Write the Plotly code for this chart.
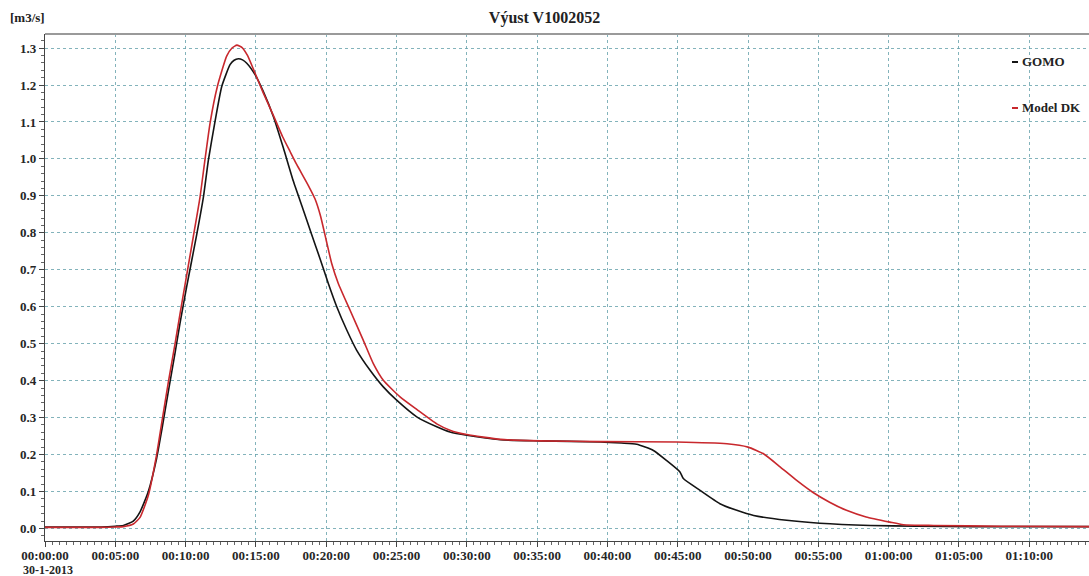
import plotly.graph_objects as go

# Time axis in minutes since 00:00:00 on 30-1-2013
gomo_t = [0, 4.0, 5.0, 5.57, 6.28, 6.76, 7.35, 7.94, 8.3, 8.77, 9.25, 9.6, 10.08, 10.79,
          11.26, 11.62, 12.09, 12.57, 13.16, 13.45, 13.75, 14.05, 14.35, 14.94, 15.53,
          16.24, 16.95, 17.66, 18.37, 18.97, 19.56, 20.15, 20.75, 21.46, 22.17, 23.12,
          24.06, 25.01, 26.44, 27.86, 28.8, 30.0, 32.4, 35.2, 39.5, 41.0, 42.08, 43.27,
          44.2, 45.16, 45.4, 46.59, 48.0, 49.2, 50.4, 52.75, 55.1, 58.7, 62.0, 66.0,
          70.0, 74.3]
gomo_q = [0.004, 0.004, 0.006, 0.008, 0.02, 0.045, 0.10, 0.19, 0.265, 0.37, 0.475, 0.555,
          0.655, 0.795, 0.895, 0.997, 1.101, 1.196, 1.255, 1.267, 1.271, 1.268, 1.259,
          1.228, 1.182, 1.115, 1.030, 0.940, 0.862, 0.795, 0.730, 0.663, 0.600, 0.537,
          0.482, 0.428, 0.383, 0.347, 0.302, 0.275, 0.261, 0.252, 0.240, 0.237, 0.234,
          0.231, 0.228, 0.211, 0.184, 0.153, 0.135, 0.103, 0.067, 0.049, 0.035, 0.022,
          0.014, 0.008, 0.006, 0.005, 0.005, 0.005]

model_t = [0, 4.0, 5.0, 5.57, 6.28, 6.76, 7.35, 7.94, 8.3, 8.77, 9.25, 9.6, 9.96, 10.55,
           11.02, 11.35, 11.74, 12.26, 12.92, 13.3, 13.65, 14.0, 14.4, 14.82, 15.53,
           16.24, 16.9, 17.43, 17.9, 18.73, 19.2, 19.6, 20.0, 20.39, 20.86, 21.69, 22.64,
           23.35, 24.06, 25.25, 26.44, 27.86, 28.8, 30.0, 32.4, 35.2, 39.5, 44.9, 48.5,
           50.0, 51.1, 52.3, 53.46, 54.6, 55.8, 57.0, 58.4, 60.1, 61.05, 63.2, 68.0, 74.3]
model_q = [0.003, 0.003, 0.004, 0.005, 0.012, 0.03, 0.09, 0.20, 0.285, 0.395, 0.50, 0.58,
           0.660, 0.790, 0.895, 0.990, 1.097, 1.196, 1.278, 1.300, 1.308, 1.302, 1.280,
           1.243, 1.178, 1.118, 1.060, 1.020, 0.985, 0.928, 0.892, 0.845, 0.780, 0.717,
           0.663, 0.591, 0.509, 0.446, 0.401, 0.356, 0.322, 0.283, 0.266, 0.254, 0.241,
           0.237, 0.235, 0.234, 0.229, 0.220, 0.202, 0.166, 0.130, 0.098, 0.071, 0.049,
           0.031, 0.017, 0.010, 0.008, 0.006, 0.005]

x_tick_vals = [0, 5, 10, 15, 20, 25, 30, 35, 40, 45, 50, 55, 60, 65, 70]
x_tick_text = ["00:00:00", "00:05:00", "00:10:00", "00:15:00", "00:20:00",
               "00:25:00", "00:30:00", "00:35:00", "00:40:00", "00:45:00", "00:50:00",
               "00:55:00", "01:00:00", "01:05:00", "01:10:00"]
start_date = "30-1-2013"
y_tick_vals = [0.0, 0.1, 0.2, 0.3, 0.4, 0.5, 0.6, 0.7, 0.8, 0.9, 1.0, 1.1, 1.2, 1.3]

series_names = ["GOMO", "Model DK"]
series_colors = ["#141414", "#c8282d"]

FONT = "Liberation Serif"
GRID = "rgba(100,160,170,0.8)"
TEXT = "#262626"

# plot area in pixels (used to place the free-standing labels)
L, T, W, H = 45, 34, 1044, 507


def px_x(x):
    return (x - L) / W


def px_y(y):
    return (T + H - y) / H


fig = go.Figure()
for t, q, name, color in [(gomo_t, gomo_q, series_names[0], series_colors[0]),
                          (model_t, model_q, series_names[1], series_colors[1])]:
    fig.add_trace(go.Scatter(x=t, y=q, name=name, mode="lines",
                             line=dict(color=color, width=1.6, shape="spline", smoothing=0.5)))

fig.update_layout(
    width=1089, height=576,
    margin=dict(l=L, r=1089 - L - W, t=T, b=576 - T - H),
    paper_bgcolor="white", plot_bgcolor="white",
    showlegend=False,
    font=dict(family=FONT, color=TEXT, size=13),
    title=dict(text="<b>Výust V1002052</b>", x=0.5, xanchor="center",
               y=1 - 17 / 576, yanchor="middle", yref="container",
               font=dict(family=FONT, size=16, color="#222")),
)

fig.update_xaxes(
    range=[0, 74.25], tickmode="array", tickvals=x_tick_vals, ticktext=x_tick_text,
    tickfont=dict(family=FONT, size=13, color=TEXT, weight="bold"),
    ticklabelstandoff=-3,
    showgrid=True, gridcolor=GRID, griddash="dot", gridwidth=1,
    showline=True, linecolor="#444", linewidth=1.2,
    ticks="outside", ticklen=5, tickcolor="#444",
    minor=dict(dtick=0.5, ticks="outside", ticklen=3, tickcolor="#666", showgrid=False),
    zeroline=False, automargin=False,
)
fig.update_yaxes(
    range=[-0.034, 1.338], tickmode="array", tickvals=y_tick_vals,
    tickformat=".1f",
    tickfont=dict(family=FONT, size=13, color=TEXT, weight="bold"),
    showgrid=True, gridcolor=GRID, griddash="dot", gridwidth=1,
    showline=True, linecolor="#444", linewidth=1.2,
    ticks="outside", ticklen=5, tickcolor="#444",
    minor=dict(dtick=0.02, tick0=0, ticks="outside", ticklen=3, tickcolor="#666", showgrid=False),
    zeroline=False, automargin=False,
)

# top frame line
fig.add_shape(type="line", xref="paper", yref="paper", x0=0, x1=1, y0=1, y1=1,
              line=dict(color="#9a9a9a", width=2))

# white panel behind the legend entries
fig.add_shape(type="rect", xref="paper", yref="paper", layer="between",
              x0=px_x(1008), x1=1.0, y0=px_y(117), y1=px_y(44),
              fillcolor="white", line=dict(width=0))

# legend: short coloured dash followed by the series name
for name, color, ypix in zip(series_names, series_colors, [62, 108]):
    fig.add_shape(type="line", xref="paper", yref="paper",
                  x0=px_x(1012), x1=px_x(1018), y0=px_y(ypix), y1=px_y(ypix),
                  line=dict(color=color, width=2))
    fig.add_annotation(xref="paper", yref="paper", x=px_x(1020), y=px_y(ypix),
                       xanchor="left", yanchor="middle", showarrow=False,
                       text=f"<b>{name}</b>",
                       font=dict(family=FONT, size=13, color="#222"))

# unit label above the y axis
fig.add_annotation(xref="paper", yref="paper", x=px_x(8), y=px_y(17),
                   xanchor="left", yanchor="middle", showarrow=False,
                   text="<b>[m3/s]</b>", font=dict(family=FONT, size=13, color="#222"))

# start date under the first time label
fig.add_annotation(xref="paper", yref="paper", x=px_x(21), y=px_y(570),
                   xanchor="left", yanchor="middle", showarrow=False,
                   text=f"<b>{start_date}</b>", font=dict(family=FONT, size=12, color=TEXT))

fig.write_html("out.html")
